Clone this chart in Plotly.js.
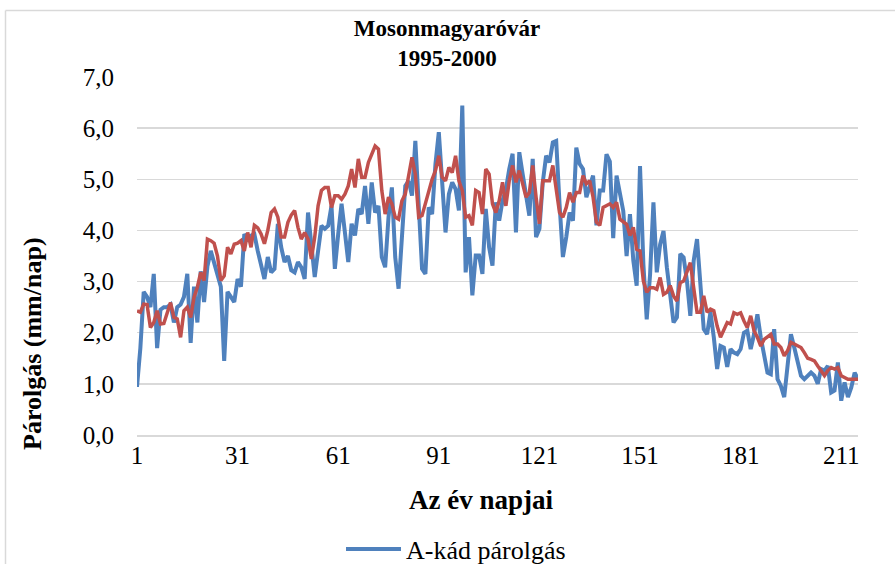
<!DOCTYPE html>
<html>
<head>
<meta charset="utf-8">
<script src="https://cdn.plot.ly/plotly-3.0.1.min.js"></script>
<style>html,body{margin:0;padding:0;background:#fff;}#chart{width:895px;height:564px;}</style>
</head>
<body>
<div id="chart"></div>
<script>
// Day-of-year index (1..216)
const days = [];
for (let i = 1; i <= 216; i++) days.push(i);

const tickDays = [1, 31, 61, 91, 121, 151, 181, 211];

const seriesBlueName = "A-kád párolgás";
const seriesBlue = [
  0.94,1.7,2.8,2.7,2.5,3.15,1.7,2.45,2.5,2.5,
  2.55,2.2,2.5,2.55,2.7,3.15,1.8,2.9,2.2,3.2,
  2.6,3.3,3.6,3.35,3.1,2.9,1.45,2.8,2.7,2.6,
  3.05,2.9,3.93,3.83,3.9,3.93,3.6,3.3,3.05,3.48,
  3.18,3.25,4.13,3.67,3.38,3.5,3.22,3.18,3.38,3.28,
  3.05,4.35,3.74,3.09,3.6,4.09,4.03,4.09,4.48,3.25,
  3.93,4.52,3.96,3.38,4.13,3.9,4.42,4.32,4.87,4.13,
  4.94,4.35,4.48,3.48,3.28,4.26,4.84,3.48,2.86,4.0,
  4.87,4.97,4.68,5.75,4.32,3.25,3.15,4.45,4.32,5.3,
  5.92,4.97,3.96,4.71,4.94,4.81,4.39,6.44,3.18,3.87,
  2.73,3.51,3.51,3.15,4.42,3.67,3.31,4.55,4.19,4.58,
  4.8,5.2,5.5,3.96,5.53,5.1,4.65,4.29,5.4,3.87,
  4.03,4.94,5.46,5.33,5.72,5.75,4.52,3.48,3.87,4.35,
  4.19,5.62,5.3,5.2,4.65,4.84,5.07,4.1,4.78,4.78,
  5.49,5.35,3.85,5.07,4.71,4.38,3.5,4.32,3.41,2.92,
  5.26,3.34,2.26,3.14,4.55,3.18,3.73,3.99,3.28,2.72,
  2.2,2.3,3.54,3.47,3.01,2.33,3.41,3.83,3.01,2.07,
  1.97,2.4,1.91,1.29,1.74,1.71,1.33,1.68,1.61,1.58,
  1.68,2.0,2.04,1.68,1.97,2.36,1.91,1.58,1.22,1.19,
  2.07,1.09,0.96,0.74,1.45,1.97,1.71,1.39,1.16,1.09,
  1.16,1.22,1.16,1.0,1.29,1.26,1.35,0.83,0.87,1.42,
  0.67,1.03,0.74,0.93,1.22,1.09
];

const seriesRedName = "Számított párolgás";
const seriesRed = [
  2.43,2.4,2.56,2.55,2.1,2.2,2.43,2.17,2.18,2.4,
  2.59,2.3,2.27,1.91,2.43,2.5,2.3,2.69,2.89,3.18,
  3.02,3.83,3.8,3.75,3.5,3.02,3.11,3.67,3.54,3.73,
  3.75,3.8,3.6,3.96,3.67,4.1,4.05,3.93,3.74,4.0,
  4.35,4.42,4.26,3.87,3.87,4.16,4.3,4.39,4.06,3.83,
  3.96,3.83,3.44,3.87,4.48,4.78,4.84,4.84,4.45,4.68,
  4.68,4.61,4.71,4.87,5.2,4.84,5.4,5.04,5.04,5.33,
  5.5,5.65,5.59,4.78,4.32,4.65,4.52,4.26,4.22,4.58,
  4.71,5.04,5.43,5.1,4.26,4.29,4.52,4.81,5.0,5.17,
  5.46,5.04,4.97,5.23,5.13,5.46,4.97,4.78,4.26,4.29,
  4.1,4.78,4.74,4.32,5.2,5.1,4.52,4.35,4.58,4.94,
  4.48,4.97,5.27,4.94,5.17,4.91,4.65,4.74,5.27,4.65,
  4.13,4.97,4.97,4.97,5.27,4.78,4.35,4.26,4.45,4.74,
  4.55,4.74,4.74,5.07,4.91,4.97,4.65,4.16,4.1,4.45,
  4.48,4.52,4.45,4.55,4.22,4.16,4.12,3.9,4.06,3.63,
  3.6,3.01,2.79,2.88,2.88,2.85,3.08,2.75,2.79,2.92,
  2.72,2.62,2.98,3.01,3.21,3.37,2.88,2.4,2.4,2.72,
  2.4,2.46,2.43,2.13,1.91,2.07,2.2,2.17,2.39,2.36,
  2.39,2.23,2.1,2.33,2.04,1.91,1.74,1.87,1.92,1.97,
  1.78,1.78,1.71,1.55,1.65,1.81,1.78,1.74,1.71,1.61,
  1.5,1.48,1.45,1.35,1.26,1.16,1.26,1.32,1.29,1.32,
  1.16,1.13,1.09,1.09,1.09,1.09
];

const titleLines = ["Mosonmagyaróvár", "1995-2000"];
const xTitle = "Az év napjai";
const yTitle = "Párolgás (mm/nap)";

// layout geometry (pixels)
const W = 895, H = 564;
const L = 137, R = 858, T = 77, B = 435;
const px2x = p => (p - L) / (R - L);
const px2y = p => (B - p) / (B - T);

const serif = "Liberation Serif, Times New Roman, serif";
const grid = "#d9d9d9";

const traces = [
  {x: days, y: seriesBlue, type: "scatter", mode: "lines", name: seriesBlueName,
   line: {color: "#4F81BD", width: 4}},
  {x: days, y: seriesRed, type: "scatter", mode: "lines", name: seriesRedName,
   line: {color: "#C0504D", width: 3.5}, showlegend: false}
];

const layout = {
  width: W, height: H, autosize: false,
  margin: {l: L, r: W - R, t: T, b: H - B, pad: 0, autoexpand: false},
  paper_bgcolor: "#ffffff", plot_bgcolor: "#ffffff",
  separators: ", ",
  font: {family: serif, size: 25, color: "#000"},
  title: {text: titleLines.map(s => "<b>" + s + "</b>").join("<br>"),
          xref: "container", x: 447 / W, xanchor: "center",
          yref: "container", y: 1 - 36 / H, yanchor: "top",
          font: {family: serif, size: 23, color: "#000"}},
  showlegend: true,
  legend: {orientation: "h", x: px2x(341), xanchor: "left", y: px2y(549), yanchor: "middle",
           itemwidth: 55, font: {family: serif, size: 26, color: "#000"}, bgcolor: "rgba(0,0,0,0)"},
  xaxis: {range: [1, 216], tickmode: "array", tickvals: tickDays, ticktext: tickDays.map(String),
          showgrid: false, zeroline: false, showline: true, linecolor: grid, linewidth: 1.5,
          ticks: "", ticklabelstandoff: -3, tickfont: {family: serif, size: 25, color: "#000"},
          automargin: false, fixedrange: true},
  yaxis: {range: [0, 7], dtick: 1, tick0: 0, tickformat: ".1f", showgrid: true, gridcolor: grid,
          gridwidth: 1.5, zeroline: false, showline: false, ticks: "", ticklabelstandoff: 22,
          tickfont: {family: serif, size: 25, color: "#000"}, automargin: false, fixedrange: true},
  annotations: [
    {text: "<b>" + xTitle + "</b>", xref: "paper", yref: "paper", x: px2x(481), y: px2y(500),
     xanchor: "center", yanchor: "middle", showarrow: false, font: {family: serif, size: 27, color: "#000"}},
    {text: "<b>" + yTitle + "</b>", xref: "paper", yref: "paper", x: px2x(32), y: px2y(344),
     xanchor: "center", yanchor: "middle", textangle: -90, showarrow: false,
     font: {family: serif, size: 26, color: "#000"}}
  ],
  shapes: [
    {type: "line", xref: "paper", yref: "paper", x0: px2x(5.5), x1: px2x(5.5), y0: px2y(10.5), y1: px2y(564),
     line: {color: grid, width: 1.5}},
    {type: "line", xref: "paper", yref: "paper", x0: px2x(5.5), x1: px2x(895), y0: px2y(10.5), y1: px2y(10.5),
     line: {color: grid, width: 1.5}}
  ]
};

Plotly.newPlot("chart", traces, layout, {displayModeBar: false, staticPlot: true});
</script>
</body>
</html>
